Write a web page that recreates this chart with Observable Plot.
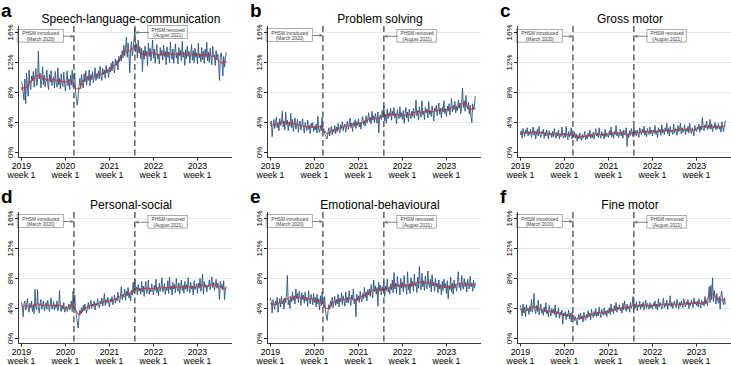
<!DOCTYPE html>
<html>
<head>
<meta charset="utf-8">
<script src="https://cdn.jsdelivr.net/npm/d3@7"></script>
<script src="https://cdn.jsdelivr.net/npm/@observablehq/plot@0.6"></script>
<style>
  body { margin: 0; background: #fff; }
  #figure { position: relative; width: 731px; height: 365px; overflow: hidden;
            font-family: "Liberation Sans", Arial, Helvetica, sans-serif; color: #000; }
  .panel { position: absolute; width: 232px; height: 182px; }
  .panel svg { position: absolute; left: 0; top: 0; }
  .letter { position: absolute; left: 1px; top: 1px; font-size: 19px; font-weight: bold; line-height: 1; }
  .title { position: absolute; left: 0; top: 12.6px; width: 262px; text-align: center; font-size: 12px; line-height: 1;
           white-space: nowrap; transform: scaleY(1.12); transform-origin: 50% 85%; }
</style>
</head>
<body>
<div id="figure"></div>
<script>
// Weekly share of children flagged in each developmental domain (%), 2019 week 1 onward
const years = ["2019", "2020", "2021", "2022", "2023"];
const yTicks = [0, 4, 8, 12, 16];
const letters = ["a", "b", "c", "d", "e", "f"];
const titles = ["Speech-language-communication", "Problem solving", "Gross motor",
                "Personal-social", "Emotional-behavioural", "Fine motor"];
// Public health and social measures: week index (52 weeks per year from 2019 week 1)
const eventWeeks = [62, 134];
const eventLabels = ["PHSM introduced\n(March 2020)", "PHSM removed\n(August 2021)"];

const speechLanguage = [
  9.4, 9.1, 8.0, 7.0, 9.8, 6.5, 10.6, 8.8, 7.5, 11.0, 9.0, 8.4, 10.2,
  9.6, 10.8, 8.7, 9.9, 11.2, 8.9, 9.5, 13.5, 9.8, 10.6, 8.6, 9.7, 11.4,
  9.0, 10.3, 8.8, 9.6, 11.0, 9.2, 8.4, 10.4, 9.4, 10.9, 8.9, 9.7, 10.1,
  8.6, 10.8, 9.3, 8.7, 11.3, 9.0, 9.9, 8.5, 10.5, 9.2, 8.8, 10.7, 9.1,
  8.2, 9.6, 10.9, 8.9, 9.8, 8.4, 10.3, 9.0, 11.0, 8.7, 9.4, 10.6, 8.0,
  7.2, 6.3, 7.5, 8.8, 9.9, 8.5, 10.4, 9.2, 8.6, 10.5, 9.4, 10.9, 9.0,
  10.2, 9.6, 11.0, 8.9, 10.4, 9.7, 10.8, 9.3, 10.1, 11.3, 9.6, 10.5, 9.9,
  10.9, 9.8, 11.5, 10.2, 9.6, 11.2, 10.4, 11.0, 9.9, 11.6, 10.6, 11.1, 10.0,
  11.4, 10.7, 11.9, 10.9, 12.2, 11.3, 10.6, 12.5, 11.6, 12.3, 11.0, 12.8, 12.1,
  13.0, 12.2, 13.6, 12.6, 14.3, 12.9, 13.8, 15.4, 12.7, 14.6, 13.2, 10.6, 13.9,
  14.8, 12.9, 13.7, 15.1, 16.6, 13.4, 14.5, 12.6, 15.0, 13.3, 14.1, 12.5, 13.9,
  10.8, 13.6, 12.4, 14.2, 12.9, 13.5, 11.6, 14.6, 12.8, 13.9, 12.2, 13.4, 15.0,
  12.6, 13.8, 11.9, 13.3, 14.4, 12.5, 13.1, 11.8, 14.0, 12.9, 13.6, 12.3, 14.3,
  12.8, 13.5, 11.7, 14.1, 12.7, 13.4, 12.0, 14.7, 13.1, 12.4, 13.8, 11.9, 13.2,
  14.5, 12.6, 13.3, 11.8, 14.0, 12.9, 13.6, 12.2, 14.8, 12.7, 13.4, 11.6, 13.7,
  12.5, 14.2, 12.8, 13.5, 11.9, 13.1, 14.4, 12.3, 13.6, 12.0, 13.9, 12.7, 13.3,
  11.8, 14.6, 12.6, 13.2, 12.1, 14.0, 12.4, 13.5, 11.9, 13.8, 12.7, 14.7, 12.2,
  13.4, 12.0, 13.9, 12.6, 11.7, 14.2, 12.8, 13.0, 11.6, 13.6, 12.4, 13.1, 11.9,
  9.6, 12.9, 13.3, 12.2, 10.2, 12.8, 11.4, 12.6, 13.3
];

const problemSolving = [
  3.8, 4.2, 2.1, 3.5, 4.4, 3.2, 4.0, 4.7, 3.3, 3.9, 2.9, 4.5, 3.6,
  4.1, 5.5, 3.4, 4.2, 3.0, 5.4, 3.7, 4.3, 2.9, 4.0, 3.5, 5.2, 3.3,
  4.4, 2.8, 3.9, 4.6, 3.1, 3.7, 4.4, 2.7, 3.8, 4.2, 3.0, 3.6, 4.5,
  3.2, 2.6, 4.0, 3.4, 2.9, 4.3, 3.1, 3.6, 2.5, 3.9, 3.3, 4.0, 2.8,
  3.5, 3.0, 3.8, 2.6, 4.8, 3.1, 2.7, 3.6, 2.9, 4.7, 2.8, 3.2, 2.5,
  2.3, 2.0, 1.8, 2.6, 3.3, 2.2, 2.9, 3.5, 2.4, 3.1, 2.7, 3.6, 2.5,
  3.4, 2.8, 3.9, 3.0, 2.6, 3.7, 3.2, 4.1, 2.9, 3.5, 3.8, 2.7, 3.6,
  4.2, 3.1, 3.7, 4.6, 3.3, 3.9, 2.8, 4.0, 3.5, 4.4, 3.2, 4.1, 3.6,
  4.5, 3.4, 4.0, 3.1, 4.3, 4.8, 3.7, 4.2, 3.5, 4.9, 3.9, 4.4, 5.3,
  4.1, 4.7, 3.8, 5.5, 4.3, 4.9, 4.0, 5.2, 4.6, 3.9, 5.4, 2.6, 4.8,
  5.0, 4.4, 5.6, 4.7, 6.3, 4.2, 5.1, 3.9, 5.8, 4.5, 5.3, 4.8, 5.9,
  4.3, 5.5, 4.9, 6.0, 4.6, 5.2, 3.8, 5.7, 5.0, 4.5, 6.1, 4.7, 5.3,
  4.4, 5.6, 3.9, 5.1, 6.0, 4.6, 5.4, 4.1, 5.8, 5.0, 4.5, 5.5, 4.8,
  5.9, 4.6, 5.3, 7.0, 4.9, 5.6, 4.3, 6.1, 5.2, 4.7, 6.9, 5.0, 5.5,
  4.4, 6.0, 5.3, 5.8, 4.6, 6.8, 5.1, 5.6, 4.8, 6.2, 5.4, 4.2, 5.9,
  5.5, 6.3, 4.9, 5.7, 6.6, 5.1, 5.9, 4.6, 6.0, 5.4, 6.9, 5.2, 5.8,
  4.8, 6.2, 5.5, 6.5, 5.0, 5.9, 7.2, 5.4, 6.3, 5.7, 6.8, 5.3, 6.1,
  5.6, 7.0, 5.9, 6.6, 5.2, 6.4, 8.6, 6.0, 6.9, 5.5, 7.6, 6.2, 5.8,
  6.7, 5.1, 6.3, 4.8, 4.0, 6.5, 5.7, 6.1, 7.5
];

const grossMotor = [
  2.4, 2.9, 1.9, 3.2, 2.6, 2.1, 3.0, 2.5, 3.3, 2.2, 2.8, 2.4, 3.1,
  2.0, 2.7, 3.4, 2.3, 2.9, 1.8, 2.6, 3.1, 2.2, 3.5, 2.4, 2.0, 2.8,
  2.5, 3.1, 1.9, 2.7, 2.2, 3.0, 2.4, 1.8, 2.9, 2.3, 2.6, 2.0, 2.8,
  2.1, 3.2, 2.4, 1.9, 2.7, 2.2, 3.0, 1.8, 2.5, 2.1, 3.4, 2.3, 1.9,
  2.6, 2.0, 3.5, 2.2, 1.7, 2.8, 2.1, 2.4, 3.3, 1.8, 2.3, 2.0, 2.7,
  1.9, 2.5, 1.5, 2.3, 1.8, 2.6, 2.0, 1.6, 2.4, 1.9, 2.2, 2.8, 1.7,
  2.3, 1.8, 2.6, 2.1, 3.0, 1.9, 2.4, 2.0, 2.7, 1.8, 2.5, 3.2, 2.2,
  2.6, 2.0, 3.3, 2.3, 1.9, 2.8, 2.2, 2.5, 1.8, 3.1, 2.1, 2.6, 2.3,
  2.0, 2.9, 2.3, 3.4, 2.1, 2.6, 1.9, 2.8, 2.4, 3.6, 2.2, 2.7, 2.0,
  2.5, 3.1, 2.2, 2.8, 1.9, 3.0, 2.4, 2.6, 3.3, 0.8, 2.5, 2.0, 2.9,
  2.3, 3.2, 2.6, 2.1, 3.4, 2.4, 2.9, 2.2, 3.0, 2.5, 2.0, 3.3, 2.7,
  2.4, 3.1, 2.6, 3.5, 2.3, 2.9, 2.1, 3.2, 2.7, 2.4, 3.4, 2.5, 3.0,
  2.2, 3.0, 2.6, 3.6, 2.4, 2.9, 2.0, 3.3, 2.7, 3.1, 2.3, 3.7, 2.6,
  3.0, 2.4, 3.3, 2.8, 3.9, 2.5, 3.2, 2.2, 3.5, 2.7, 3.0, 2.4, 3.8,
  2.6, 3.2, 2.9, 2.3, 3.6, 2.8, 3.1, 3.9, 2.5, 3.3, 2.7, 3.0, 3.7,
  2.4, 3.2, 2.8, 3.5, 2.6, 3.9, 3.0, 2.5, 3.3, 2.9, 2.2, 3.6, 3.0,
  2.8, 3.4, 3.1, 3.8, 2.7, 3.5, 3.0, 4.7, 3.2, 2.9, 3.7, 3.3, 4.2,
  3.0, 3.6, 3.2, 4.4, 3.1, 3.8, 2.8, 3.5, 3.3, 4.0, 3.0, 3.6, 3.2,
  3.9, 3.1, 3.5, 2.7, 4.1, 3.3, 2.8, 3.6, 4.2
];

const personalSocial = [
  4.8, 4.4, 2.9, 4.6, 5.0, 3.8, 4.3, 5.3, 4.0, 3.5, 4.7, 4.1, 5.0,
  3.6, 4.4, 3.3, 6.6, 4.2, 3.8, 6.5, 4.1, 3.4, 4.6, 5.2, 3.9, 4.5,
  5.0, 3.7, 4.3, 4.8, 3.9, 5.1, 4.4, 3.6, 4.5, 5.4, 3.9, 4.2, 4.9,
  3.8, 4.5, 4.1, 5.0, 3.7, 4.3, 6.4, 4.0, 3.6, 4.4, 3.9, 4.8, 3.5,
  3.9, 4.3, 3.6, 4.0, 4.6, 3.8, 4.2, 5.0, 3.6, 6.3, 4.1, 5.8, 3.8,
  3.0, 2.2, 1.4, 2.9, 3.8, 3.3, 4.1, 3.5, 4.4, 3.7, 4.6, 3.9, 3.4,
  4.2, 4.8, 3.9, 4.5, 5.1, 4.0, 4.6, 4.3, 5.0, 3.8, 4.7, 4.4, 5.3,
  4.5, 4.1, 5.0, 4.6, 5.4, 4.3, 4.9, 6.0, 4.4, 5.2, 4.7, 5.5, 4.8,
  4.2, 5.3, 4.9, 5.6, 4.5, 5.1, 5.8, 4.7, 5.4, 5.0, 6.2, 5.3, 4.8,
  5.6, 6.9, 5.2, 5.9, 5.5, 6.6, 5.1, 6.3, 5.7, 6.8, 5.4, 6.0, 5.0,
  6.4, 5.8, 7.5, 6.1, 7.9, 6.4, 6.9, 5.8, 7.2, 6.3, 6.7, 5.9, 7.6,
  6.2, 7.0, 5.6, 6.8, 7.6, 6.0, 6.5, 7.8, 5.9, 6.7, 6.2, 7.3, 6.5,
  5.8, 7.1, 6.4, 7.9, 6.1, 6.8, 5.7, 7.4, 6.3, 6.9, 8.1, 6.2, 6.6,
  7.3, 5.9, 6.8, 6.4, 7.7, 6.0, 8.2, 6.5, 7.0, 5.8, 7.5, 6.6, 7.2,
  6.1, 8.0, 6.7, 6.3, 7.4, 5.9, 6.9, 7.8, 6.4, 7.1, 6.0, 7.6, 6.6,
  7.2, 6.3, 8.1, 6.8, 6.1, 7.5, 6.6, 7.0, 5.8, 7.7, 6.5, 6.9, 7.3,
  6.0, 7.4, 6.7, 8.0, 6.3, 7.1, 8.6, 5.9, 7.6, 6.8, 7.2, 6.2, 7.0,
  6.9, 7.8, 6.5, 7.3, 8.2, 6.8, 7.5, 6.4, 7.1, 7.9, 6.7, 7.4, 6.9,
  5.2, 7.6, 6.8, 7.2, 6.5, 7.7, 5.2, 6.6, 6.9
];

const emotionalBehavioural = [
  5.4, 4.9, 3.4, 5.2, 4.4, 3.9, 5.0, 4.5, 5.5, 3.5, 4.7, 5.3, 4.2,
  5.6, 4.6, 5.0, 3.9, 5.4, 4.8, 5.8, 8.4, 4.5, 5.2, 4.0, 5.6, 4.9,
  6.2, 5.1, 5.7, 4.6, 6.6, 5.3, 6.0, 4.8, 6.3, 5.5, 4.4, 6.1, 5.2,
  5.8, 4.7, 6.2, 5.0, 5.5, 4.3, 6.4, 5.1, 4.6, 5.9, 5.3, 4.5, 6.0,
  4.8, 5.5, 4.2, 5.9, 4.6, 5.3, 3.8, 5.7, 4.4, 6.2, 4.9, 4.1, 5.6,
  3.8, 3.0, 2.4, 3.6, 4.5, 3.9, 5.0, 4.3, 5.5, 4.1, 4.8, 5.6, 4.4,
  5.2, 4.6, 5.9, 4.2, 5.4, 4.9, 6.1, 4.5, 5.7, 5.0, 4.3, 6.2, 4.8,
  5.5, 4.7, 6.4, 5.1, 4.4, 5.8, 5.2, 6.6, 4.6, 5.3, 2.9, 5.9, 5.1,
  5.7, 4.8, 6.3, 5.4, 4.9, 6.0, 5.3, 6.8, 5.5, 6.2, 5.0, 6.5, 5.8,
  6.6, 5.6, 7.2, 6.1, 5.4, 7.8, 6.3, 7.0, 5.9, 6.8, 4.3, 7.5, 6.4,
  7.1, 5.8, 6.9, 6.3, 7.6, 5.6, 7.0, 6.4, 7.9, 6.2, 6.7, 5.9, 7.3,
  6.5, 7.8, 6.1, 8.8, 6.6, 7.4, 6.0, 8.3, 6.9, 7.2, 5.8, 8.0, 6.7,
  7.5, 6.2, 8.4, 6.8, 7.1, 5.9, 8.9, 6.5, 7.3, 6.0, 8.1, 6.9, 7.6,
  6.3, 8.6, 7.0, 7.4, 6.1, 8.2, 6.7, 9.6, 7.2, 6.5, 8.7, 6.9, 7.7,
  6.4, 8.3, 7.1, 6.6, 9.0, 7.3, 6.8, 7.9, 6.2, 8.5, 7.0, 7.5, 6.3,
  8.0, 6.9, 7.4, 6.1, 7.8, 6.6, 7.2, 5.8, 7.6, 6.4, 7.9, 6.8, 7.3,
  6.0, 7.7, 5.3, 7.1, 6.5, 8.2, 6.2, 7.4, 5.9, 7.8, 6.7, 7.2, 6.3,
  7.6, 8.9, 6.8, 7.3, 6.4, 8.4, 7.0, 6.6, 8.0, 6.9, 7.5, 6.2, 7.9,
  7.1, 6.6, 8.3, 6.9, 7.4, 6.3, 7.8, 6.7, 7.4
];

const fineMotor = [
  4.4, 3.9, 3.0, 4.6, 3.4, 4.2, 2.9, 4.5, 3.7, 4.0, 3.2, 4.3, 3.6,
  5.2, 3.5, 4.1, 6.0, 3.8, 3.3, 4.4, 3.6, 5.1, 3.2, 3.9, 4.6, 3.4,
  3.8, 3.1, 4.2, 3.5, 4.8, 3.3, 3.7, 2.9, 4.4, 3.6, 3.0, 4.0, 3.4,
  3.9, 3.2, 4.5, 2.8, 3.6, 3.3, 4.1, 2.7, 3.5, 3.1, 3.8, 1.9, 3.4,
  3.0, 3.6, 2.5, 3.3, 2.9, 3.8, 2.6, 3.4, 2.2, 3.5, 2.8, 3.1, 2.4,
  2.9, 2.3, 1.8, 2.7, 3.2, 2.5, 3.4, 2.6, 3.0, 2.2, 3.5, 2.8, 2.4,
  3.2, 2.7, 3.7, 2.9, 3.4, 2.5, 3.9, 3.1, 2.8, 3.6, 3.0, 4.0, 2.9,
  3.5, 3.0, 4.2, 3.3, 2.8, 3.9, 3.4, 3.1, 4.1, 3.2, 3.7, 2.9, 3.8,
  3.4, 4.1, 3.2, 4.6, 3.6, 3.9, 3.3, 4.4, 3.7, 4.8, 3.5, 4.2, 3.9,
  4.5, 3.7, 4.0, 3.4, 4.7, 3.8, 5.0, 4.1, 3.6, 4.6, 3.9, 4.3, 3.5,
  4.8, 4.0, 4.4, 5.6, 3.8, 4.6, 4.1, 4.9, 3.7, 4.5, 4.2, 5.0, 3.9,
  4.6, 4.2, 4.9, 3.8, 4.4, 5.1, 4.0, 4.7, 4.3, 3.9, 4.8, 4.1, 4.5,
  3.9, 4.7, 4.3, 5.0, 4.0, 4.6, 3.8, 5.3, 4.2, 4.8, 4.4, 3.9, 4.6,
  5.4, 4.1, 4.7, 4.3, 5.1, 3.9, 4.6, 4.4, 5.7, 4.2, 4.8, 4.0, 4.5,
  5.0, 4.4, 4.1, 5.2, 4.6, 3.9, 4.8, 4.3, 5.0, 4.5, 4.1, 5.3, 4.7,
  4.2, 4.9, 4.5, 5.2, 4.0, 4.8, 4.4, 5.1, 4.7, 4.1, 5.4, 4.6, 4.9,
  4.4, 5.0, 4.2, 5.3, 4.7, 4.1, 5.1, 4.5, 4.9, 4.3, 5.6, 4.6, 5.0,
  4.4, 5.4, 6.9, 4.8, 7.1, 5.2, 8.1, 4.9, 6.4, 5.5, 4.6, 6.0, 5.1,
  4.7, 5.6, 3.9, 5.9, 6.3, 5.0, 4.5, 5.4, 4.6
];

const series = [speechLanguage, problemSolving, grossMotor, personalSocial, emotionalBehavioural, fineMotor];

// Layout of the 2 x 3 grid and of each plot frame
const COL_LEFT = [0, 249, 499];
const ROW_TOP = [0, 186];
const X_DOMAIN = [-3.5, 249.4];
const Y_DOMAIN = [-0.667, 16.8];
// Vertical centre (in %) of the two event boxes for each panel
const noteLevels = [[15.5, 16.0], [15.6, 15.5], [15.5, 15.5], [15.6, 15.5], [15.6, 15.5], [15.6, 15.5]];

const FONT = '"Liberation Sans", Arial, Helvetica, sans-serif';
const NAVY = "#214f7e";
const RED = "#cc2e33";

function eventNotes(levels) {
  // box to the left of the first event line, to the right of the second
  return [
    {label: eventLabels[0], y: levels[0], x1: eventWeeks[0] - 66.5, x2: eventWeeks[0] - 12, ax1: eventWeeks[0] - 12, ax2: eventWeeks[0] - 1.2},
    {label: eventLabels[1], y: levels[1], x1: eventWeeks[1] + 16, x2: eventWeeks[1] + 62.5, ax1: eventWeeks[1] + 16, ax2: eventWeeks[1] + 1.4}
  ];
}

function panelPlot(values, levels) {
  const rows = values.map((v, i) => ({t: i, value: v}));
  const notes = eventNotes(levels);
  return Plot.plot({
    width: 232,
    height: 182,
    marginLeft: 18,
    marginRight: 0,
    marginTop: 26,
    marginBottom: 25,
    x: {domain: X_DOMAIN},
    y: {domain: Y_DOMAIN},
    style: {fontFamily: FONT, background: "transparent", overflow: "visible", color: "#000"},
    marks: [
      Plot.gridY(yTicks, {stroke: "#dfe9ef", strokeOpacity: 1, strokeWidth: 0.9}),
      Plot.line(rows, {x: "t", y: "value", stroke: NAVY, strokeWidth: 0.85}),
      Plot.line(rows, Plot.windowY({k: 9, anchor: "middle", reduce: "mean"}, {x: "t", y: "value", stroke: RED, strokeWidth: 1})),
      Plot.ruleX(eventWeeks, {stroke: "#4a4a4a", strokeWidth: 1.3, strokeDasharray: "6,3.5"}),
      Plot.rect(notes, {x1: "x1", x2: "x2", y1: d => d.y - 0.85, y2: d => d.y + 0.85, fill: "#fff", stroke: "#8a8a8a", strokeWidth: 0.7}),
      Plot.text(notes, {x: d => (d.x1 + d.x2) / 2, y: "y", text: "label", fontSize: 4.7, lineHeight: 1.12, fill: "#3a3a3a"}),
      Plot.arrow(notes, {x1: "ax1", x2: "ax2", y1: "y", y2: "y", stroke: "#5a5a5a", strokeWidth: 0.75, headLength: 5, headAngle: 55}),
      Plot.ruleX([X_DOMAIN[0]], {stroke: "#222", strokeWidth: 0.9}),
      Plot.ruleY([Y_DOMAIN[0]], {stroke: "#222", strokeWidth: 0.9}),
      Plot.axisX({
        ticks: years.map((_, i) => i * 52),
        tickFormat: d => `${years[Math.round(d / 52)]}\nweek 1`,
        tickSize: 3.5, tickPadding: 1.5, fontSize: 8.8, lineHeight: 1.03, stroke: "#222"
      }),
      Plot.axisY({
        ticks: yTicks,
        tickFormat: d => `${d}%`,
        tickRotate: -90, tickSize: 3, tickPadding: 2.5, fontSize: 8, stroke: "#222"
      })
    ]
  });
}

const figure = document.getElementById("figure");
series.forEach((values, i) => {
  const panel = document.createElement("div");
  panel.className = "panel";
  panel.style.left = COL_LEFT[i % 3] + "px";
  panel.style.top = ROW_TOP[Math.floor(i / 3)] + "px";
  panel.appendChild(panelPlot(values, noteLevels[i]));
  const letter = document.createElement("div");
  letter.className = "letter";
  letter.textContent = letters[i];
  const title = document.createElement("div");
  title.className = "title";
  title.textContent = titles[i];
  panel.appendChild(letter);
  panel.appendChild(title);
  figure.appendChild(panel);
});
</script>
</body>
</html>
